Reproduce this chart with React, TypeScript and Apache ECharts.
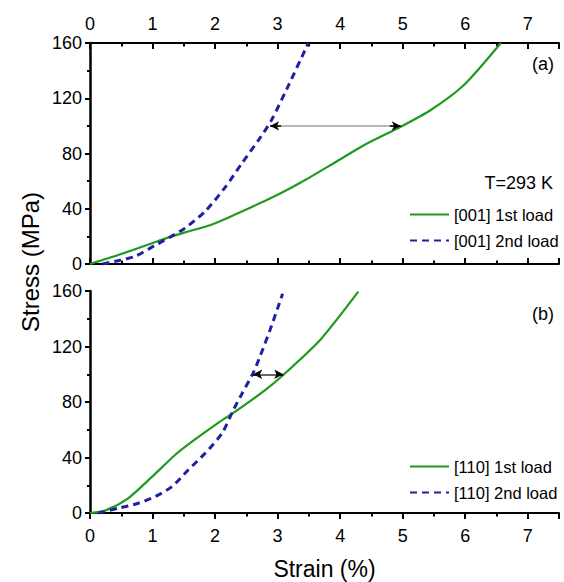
import React, { useEffect, useRef } from "react";
import * as echarts from "echarts";

const FONT = '"Liberation Sans", Arial, Helvetica, sans-serif';
const GREEN = "#1f9a1f";
const BLUE = "#2020a0";

// Panel (a): [001]
const a1Strain = [0, 0.45, 0.99, 1.26, 1.52, 1.95, 2.33, 2.81, 3.04, 3.37, 3.85, 4.38, 4.97, 5.45, 5.98, 6.57];
const a1Stress = [0, 6.5, 15, 19.3, 22.9, 28.6, 36, 46, 51, 59, 71.7, 86, 99.4, 111.5, 129.6, 160];
const a2Strain = [0.2, 0.45, 0.72, 1.04, 1.3, 1.52, 1.84, 2.17, 2.43, 2.7, 2.9, 3.15, 3.45, 3.49];
const a2Stress = [0, 2.4, 5.5, 13.5, 20, 26, 38, 56, 73, 90, 104, 127, 156, 160];

// Panel (b): [110]
const b1Strain = [0, 0.24, 0.61, 0.99, 1.36, 1.63, 2.05, 2.32, 2.8, 3.09, 3.68, 4.29];
const b1Stress = [0, 1.7, 10.6, 26, 41.8, 51.4, 65, 73, 88.6, 99.5, 124.7, 159.5];
const b2Strain = [0.13, 0.45, 0.77, 1.04, 1.31, 1.57, 1.84, 2.11, 2.29, 2.43, 2.61, 2.72, 2.88, 3.08];
const b2Stress = [0, 3.4, 7, 11.8, 19, 31, 43, 57.4, 74, 86, 101, 113, 132, 158];

// Double arrows at 100 MPa
const arrowA = [2.88, 4.97];
const arrowB = [2.61, 3.09];
const arrowStress = 100;

const seriesNames = ["[001] 1st load", "[001] 2nd load", "[110] 1st load", "[110] 2nd load"];

const STRAIN_MIN = 0;
const STRAIN_MAX = 7.5;
const STRAIN_STEP = 1;
const STRESS_MIN = 0;
const STRESS_MAX = 160;
const STRESS_STEP = 40;

const zip = (xs: number[], ys: number[]) => xs.map((x, i) => [x, ys[i]]);

function arrowMarkLine(range: number[], y: number, lineColor: string, lineWidth: number) {
  const head = (range[1] - range[0]) * 0.06 + 0.05;
  const base = { lineStyle: { color: lineColor, width: lineWidth, type: "solid" } };
  const black = { lineStyle: { color: "#000", width: 1.5, type: "solid" } };
  return {
    silent: true,
    symbol: ["none", "none"],
    symbolSize: [7, 9],
    label: { show: false },
    emphasis: { disabled: true },
    data: [
      [
        { coord: [range[0], y], ...base, symbol: "none" },
        { coord: [range[1], y], ...base, symbol: "none" },
      ],
      [
        { coord: [range[0] + head, y], ...black, symbol: "none" },
        { coord: [range[0], y], ...black, symbol: "arrow" },
      ],
      [
        { coord: [range[1] - head, y], ...black, symbol: "none" },
        { coord: [range[1], y], ...black, symbol: "arrow" },
      ],
    ],
  };
}

const axisLineStyle = { color: "#000", width: 2 };
const labelStyle = { fontSize: 18, color: "#000", fontFamily: FONT };

function makeX(gridIndex: number, position: string, showLabel: boolean, inside: boolean, extra: any = {}) {
  return {
    type: "value",
    gridIndex,
    position,
    min: STRAIN_MIN,
    max: STRAIN_MAX,
    interval: STRAIN_STEP,
    axisLine: { show: true, onZero: false, lineStyle: axisLineStyle },
    axisTick: { show: true, inside, length: 6, lineStyle: { color: "#000", width: 2 } },
    minorTick: { show: true, splitNumber: 2, length: 3.5, lineStyle: { color: "#000", width: 2 } },
    axisLabel: { show: showLabel, showMaxLabel: false, margin: position === "top" ? 10 : 14, ...labelStyle },
    splitLine: { show: false },
    minorSplitLine: { show: false },
    ...extra,
  };
}

function makeY(gridIndex: number) {
  return {
    type: "value",
    gridIndex,
    min: STRESS_MIN,
    max: STRESS_MAX,
    interval: STRESS_STEP,
    axisLine: { show: true, onZero: false, lineStyle: { color: "#000", width: 2.5 } },
    axisTick: { show: true, inside: false, length: 5, lineStyle: { color: "#000", width: 2 } },
    minorTick: { show: true, splitNumber: 2, length: 3, lineStyle: { color: "#000", width: 2 } },
    axisLabel: { margin: 8, ...labelStyle },
    splitLine: { show: false },
  };
}

const legendBase = {
  orient: "vertical",
  left: 404,
  itemWidth: 39,
  itemHeight: 14,
  itemGap: 9,
  selectedMode: false,
  itemStyle: { opacity: 0, borderWidth: 0 },
  textStyle: { fontSize: 16.5, color: "#000", fontFamily: FONT },
};

export default function App() {
  const ref = useRef<HTMLDivElement>(null);
  useEffect(() => {
    if (!ref.current) return;
    const chart = echarts.init(ref.current, undefined, { renderer: "svg" });
    const solid = (color: string) => ({ color, width: 2.2, type: "solid" });
    const dashed = (color: string) => ({ color, width: 3, type: [7, 5] });
    const common = { type: "line", symbol: "none", showSymbol: false, smooth: 0.25 };
    chart.setOption({
      animation: false,
      backgroundColor: "#fff",
      grid: [
        { left: 90, top: 43, width: 469, height: 221 },
        { left: 90, top: 291, width: 469, height: 222 },
      ],
      xAxis: [
        makeX(0, "top", true, true),
        makeX(0, "bottom", false, true),
        makeX(1, "bottom", true, false, {
          name: "Strain (%)",
          nameLocation: "middle",
          nameGap: 44,
          nameTextStyle: { fontSize: 23, color: "#000", fontFamily: FONT },
        }),
      ],
      yAxis: [makeY(0), makeY(1)],
      legend: [
        { ...legendBase, top: 201, data: [seriesNames[0], seriesNames[1]] },
        { ...legendBase, top: 453, data: [seriesNames[2], seriesNames[3]] },
      ],
      graphic: [
        {
          type: "text",
          x: 30,
          y: 262,
          rotation: Math.PI / 2,
          style: { text: "Stress (MPa)", fontSize: 24, fill: "#000", fontFamily: FONT, align: "center", verticalAlign: "middle" },
        },
        {
          type: "text",
          x: 553,
          y: 183,
          style: { text: "T=293 K", fontSize: 18, fill: "#000", fontFamily: FONT, align: "right", verticalAlign: "middle" },
        },
        {
          type: "text",
          x: 554,
          y: 64,
          style: { text: "(a)", fontSize: 18, fill: "#000", fontFamily: FONT, align: "right", verticalAlign: "middle" },
        },
        {
          type: "text",
          x: 554,
          y: 314,
          style: { text: "(b)", fontSize: 18, fill: "#000", fontFamily: FONT, align: "right", verticalAlign: "middle" },
        },
      ],
      series: [
        {
          ...common,
          name: seriesNames[0],
          xAxisIndex: 1,
          yAxisIndex: 0,
          data: zip(a1Strain, a1Stress),
          lineStyle: solid(GREEN),
          itemStyle: { color: GREEN },
          markLine: arrowMarkLine(arrowA, arrowStress, "#b8b8b8", 1.8),
        },
        {
          ...common,
          name: seriesNames[1],
          xAxisIndex: 1,
          yAxisIndex: 0,
          data: zip(a2Strain, a2Stress),
          lineStyle: dashed(BLUE),
          itemStyle: { color: BLUE },
        },
        {
          ...common,
          name: seriesNames[2],
          xAxisIndex: 2,
          yAxisIndex: 1,
          data: zip(b1Strain, b1Stress),
          lineStyle: solid(GREEN),
          itemStyle: { color: GREEN },
          markLine: arrowMarkLine(arrowB, arrowStress, "#333", 1.5),
        },
        {
          ...common,
          name: seriesNames[3],
          xAxisIndex: 2,
          yAxisIndex: 1,
          data: zip(b2Strain, b2Stress),
          lineStyle: dashed(BLUE),
          itemStyle: { color: BLUE },
        },
      ],
    });
    return () => chart.dispose();
  }, []);
  return (
    <div
      ref={ref}
      style={{ position: "fixed", left: 0, top: 0, width: 564, height: 582, background: "#fff" }}
    />
  );
}
